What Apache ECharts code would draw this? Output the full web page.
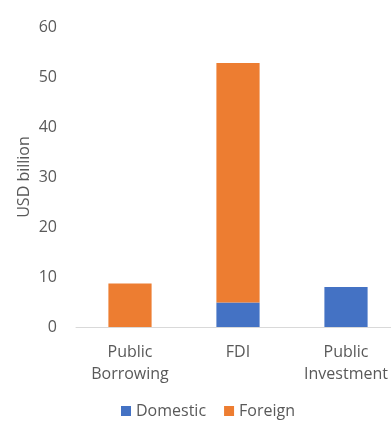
<!DOCTYPE html>
<html>
<head>
<meta charset="utf-8">
<script src="https://cdn.jsdelivr.net/npm/echarts@6/dist/echarts.min.js"></script>
<style>
  html, body { margin: 0; padding: 0; background: #fff; overflow: hidden; }
  #chart { width: 400px; height: 421px; }
</style>
</head>
<body>
<div id="chart"></div>
<script>
const categories = ["Public\nBorrowing", "FDI", "Public\nInvestment"];
const domestic = [0, 4.9, 8.0];
const foreign = [8.7, 47.9, 0];
const yTicks = [0, 60, 10]; // min, max, interval

// chart is slightly wider than the window, the right edge gets cut off like the original
const chart = echarts.init(document.getElementById("chart"));
const font = "'Open Sans', 'Liberation Sans', sans-serif";
const textColor = "#595959";

chart.setOption({
  animation: false,
  textStyle: { fontFamily: font },
  grid: { left: 76, right: 0, top: 27, bottom: 94, containLabel: false },
  legend: {
    data: ["Domestic", "Foreign"],
    left: 116,
    bottom: -3,
    itemWidth: 10,
    itemHeight: 10,
    itemGap: 18,
    icon: "rect",
    textStyle: { color: textColor, fontSize: 16, fontFamily: font }
  },
  xAxis: {
    type: "category",
    data: categories,
    axisLine: { lineStyle: { color: "#d9d9d9" } },
    axisTick: { show: false },
    axisLabel: { color: textColor, fontSize: 16, lineHeight: 22, margin: 14, interval: 0, fontFamily: font }
  },
  yAxis: {
    type: "value",
    min: yTicks[0],
    max: yTicks[1],
    interval: yTicks[2],
    name: "USD billion",
    nameLocation: "middle",
    nameGap: 44,
    nameMoveOverlap: false,
    nameTextStyle: { color: textColor, fontSize: 16, fontFamily: font },
    splitLine: { show: false },
    axisLine: { show: false },
    axisTick: { show: false },
    axisLabel: { color: textColor, fontSize: 16, margin: 19, fontFamily: font }
  },
  series: [
    {
      name: "Domestic",
      type: "bar",
      stack: "total",
      barWidth: "40%",
      itemStyle: { color: "#4472C4" },
      data: domestic
    },
    {
      name: "Foreign",
      type: "bar",
      stack: "total",
      barWidth: "40%",
      itemStyle: { color: "#ED7D31" },
      data: foreign
    }
  ]
});
</script>
</body>
</html>
